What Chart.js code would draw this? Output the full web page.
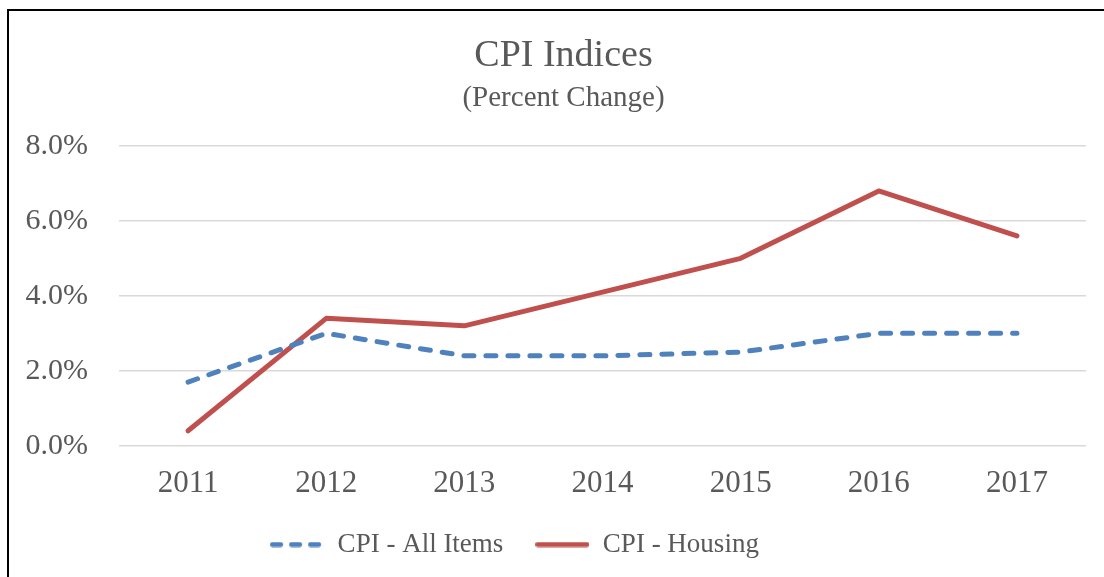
<!DOCTYPE html>
<html>
<head>
<meta charset="utf-8">
<script src="https://cdn.jsdelivr.net/npm/chart.js@4/dist/chart.umd.min.js"></script>
<style>
  html, body { margin: 0; padding: 0; background: #fff; }
  .wrap { position: relative; width: 1104px; height: 577px; overflow: hidden; }
  .frame { position: absolute; left: 7px; top: 9px; width: 1200px; height: 700px;
           border-left: 2px solid #000; border-top: 2px solid #000; }
  canvas { position: absolute; left: 0; top: 0; }
</style>
</head>
<body>
<div class="wrap">
  <div class="frame"></div>
  <canvas id="chart" width="1104" height="577"></canvas>
</div>
<script>
const years = ['2011', '2012', '2013', '2014', '2015', '2016', '2017'];
const allItems = [1.7, 3.0, 2.4, 2.4, 2.5, 3.0, 3.0];
const housing = [0.4, 3.4, 3.2, 4.1, 5.0, 6.8, 5.6];
const yTicks = [0, 2, 4, 6, 8];

const serif = '"Liberation Serif", "Times New Roman", serif';
const textColor = '#595959';
const blue = '#4F81BD';
const red = '#C0504D';

// legend swatch: a short line, dashed or solid
function swatch(color, dash) {
  const c = document.createElement('canvas');
  c.width = 54;
  c.height = 6;
  const g = c.getContext('2d');
  g.strokeStyle = color;
  g.lineWidth = 5;
  g.lineCap = 'round';
  g.setLineDash(dash);
  g.beginPath();
  g.moveTo(2.5, 3);
  g.lineTo(51.5, 3);
  g.stroke();
  return c;
}

// nudge title and legend, like the original Excel layout
const shiftBoxes = {
  id: 'shiftBoxes',
  afterLayout(chart) {
    chart.boxes.forEach(b => {
      if (b.legendItems) {
        b.left -= 41; b.right -= 41;
        b.top -= 14; b.bottom = chart.height;
      } else if (!b.axis) {
        b.left += 8; b.right += 8;
      }
    });
  }
};

const ctx = document.getElementById('chart').getContext('2d');
new Chart(ctx, {
  type: 'line',
  data: {
    labels: years,
    datasets: [{
      label: 'CPI - All Items',
      data: allItems,
      borderColor: blue,
      backgroundColor: blue,
      borderWidth: 5,
      borderDash: [10, 12],
      borderCapStyle: 'round',
      borderJoinStyle: 'round',
      pointRadius: 0,
      pointStyle: swatch(blue, [8, 11]),
      tension: 0,
    }, {
      label: 'CPI - Housing',
      data: housing,
      borderColor: red,
      backgroundColor: red,
      borderWidth: 5,
      borderCapStyle: 'round',
      borderJoinStyle: 'round',
      pointRadius: 0,
      pointStyle: swatch(red, []),
      tension: 0,
    }],
  },
  options: {
    responsive: false,
    animation: false,
    layout: { padding: { left: 25, right: 18, top: 10, bottom: 10 } },
    scales: {
      x: {
        offset: true,
        grid: { display: false },
        border: { display: false },
        ticks: { color: textColor, padding: 11, font: { family: serif, size: 31 } },
      },
      y: {
        min: 0,
        max: 8,
        afterBuildTicks: (axis) => { axis.ticks = yTicks.map(v => ({ value: v })); },
        afterFit: (axis) => { axis.width = 94; },
        grid: { color: '#d9d9d9', lineWidth: 1.5, drawTicks: false },
        border: { display: false },
        ticks: {
          color: textColor,
          padding: 31,
          font: { family: serif, size: 30 },
          callback: (v) => v.toFixed(1) + '%',
        },
      },
    },
    plugins: {
      title: {
        display: true,
        text: 'CPI Indices',
        color: textColor,
        font: { family: serif, size: 38, weight: 'normal' },
        padding: { top: 23, bottom: 2 },
      },
      subtitle: {
        display: true,
        text: '(Percent Change)',
        color: textColor,
        font: { family: serif, size: 29 },
        padding: { top: 0, bottom: 30.5 },
      },
      legend: {
        position: 'bottom',
        maxHeight: 54,
        labels: {
          color: textColor,
          font: { family: serif, size: 27 },
          usePointStyle: true,
          pointStyleWidth: 54,
          padding: 32,
        },
      },
      tooltip: { enabled: false },
    },
  },
  plugins: [shiftBoxes],
});
</script>
</body>
</html>
